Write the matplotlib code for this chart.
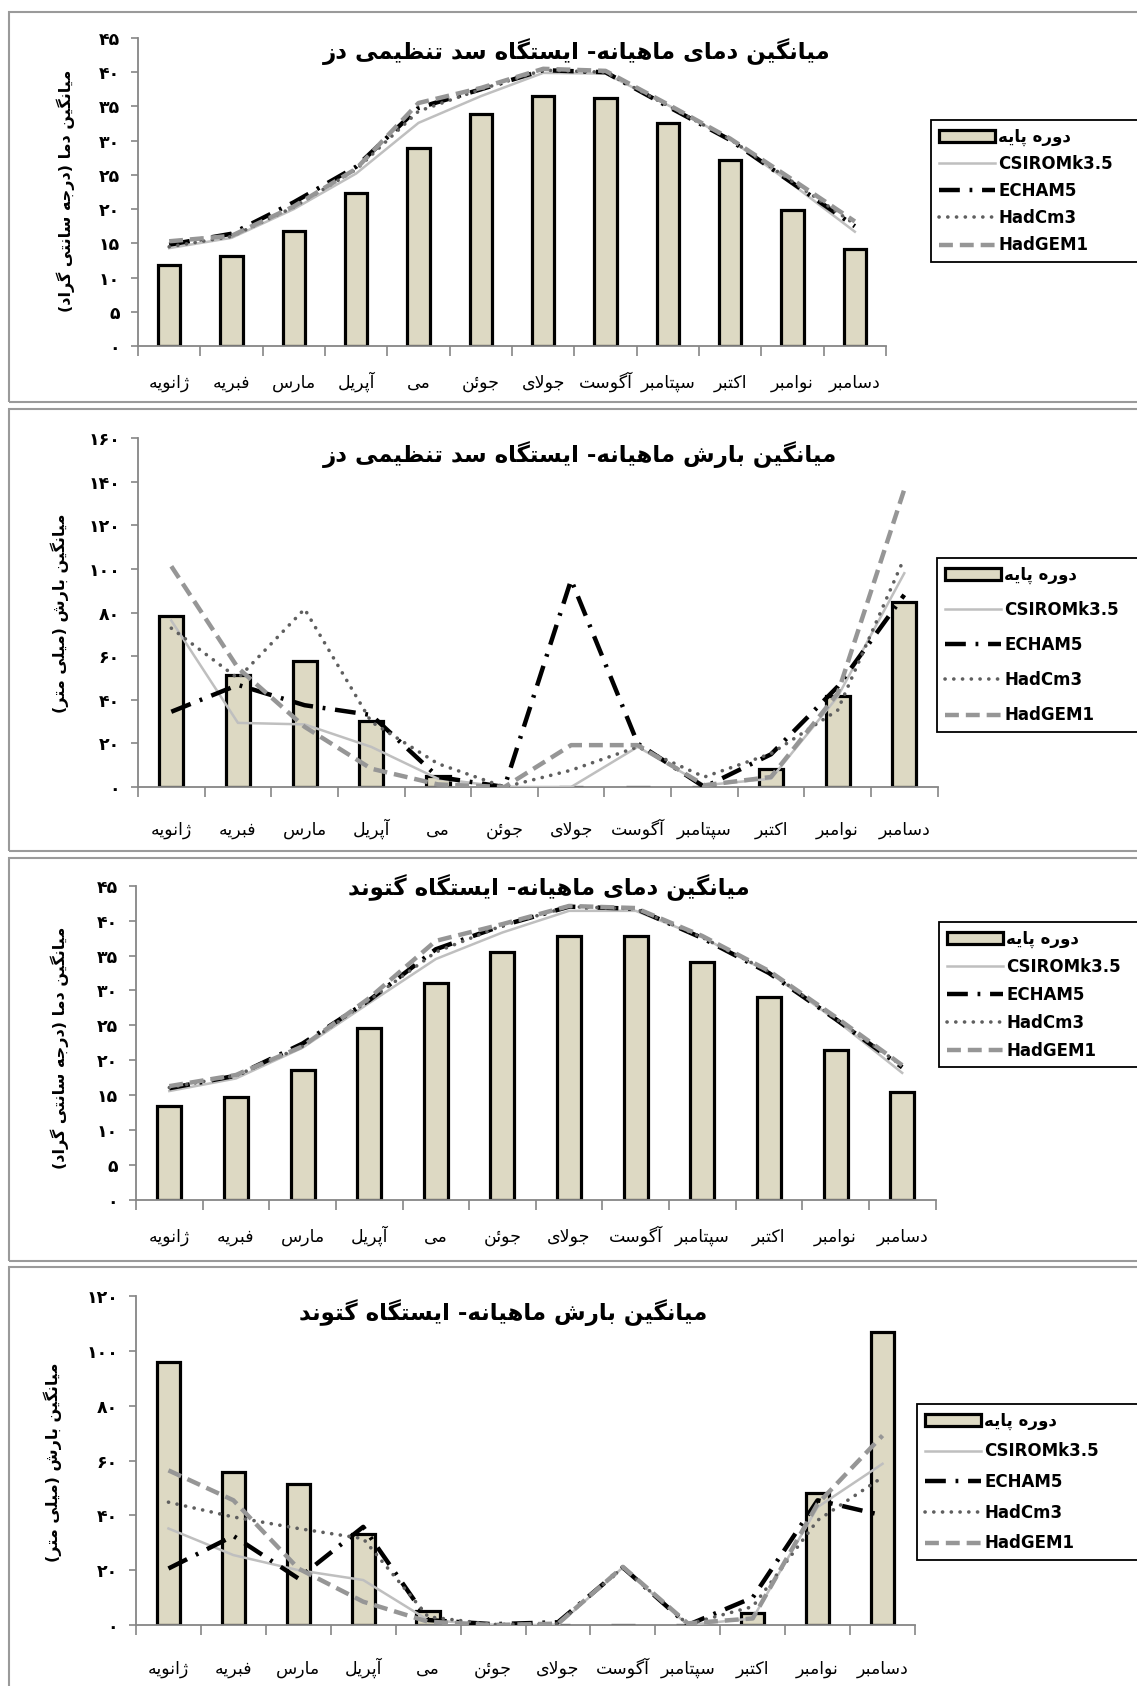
import matplotlib
matplotlib.use("Agg")
import matplotlib.pyplot as plt
from matplotlib.patches import Rectangle
import numpy as np

plt.rcParams['font.family'] = ['DejaVu Sans']
plt.rcParams['lines.scale_dashes'] = False

# ---------------- data ----------------
months = ['ژانویه', 'فبریه', 'مارس', 'آپریل', 'می', 'جوئن', 'جولای',
          'آگوست', 'سپتامبر', 'اکتبر', 'نوامبر', 'دسامبر']
series_names = ['دوره پایه', 'CSIROMk3.5', 'ECHAM5', 'HadCm3', 'HadGEM1']

dez_t_base = [11.8, 13.2, 16.8, 22.4, 29.0, 33.9, 36.5, 36.2, 32.6, 27.2, 19.8, 14.1]
dez_t_csiro = [14.3, 15.8, 20.0, 25.2, 32.6, 36.5, 39.9, 39.8, 35.2, 30.2, 23.6, 16.7]
dez_t_echam = [14.8, 16.4, 21.0, 26.2, 34.8, 37.5, 40.3, 40.0, 35.0, 30.1, 23.8, 17.5]
dez_t_hadcm3 = [14.5, 16.0, 20.3, 25.8, 34.3, 37.5, 40.3, 40.0, 35.1, 30.2, 24.0, 17.8]
dez_t_hadgem = [15.3, 16.1, 20.4, 25.9, 35.5, 37.7, 40.5, 40.2, 35.3, 30.3, 24.3, 18.2]

dez_p_base = [78.5, 51.4, 57.9, 30.2, 5.1, 0, 0, 0, 0, 8.3, 41.7, 84.9]
dez_p_csiro = [76.3, 29.4, 28.7, 18.4, 3.8, 0, 0, 18.4, 0.8, 3.8, 41.4, 98.0]
dez_p_echam = [34.5, 46.8, 37.5, 33.0, 4.6, 0, 95.0, 19.9, 0, 15.0, 46.0, 88.1]
dez_p_hadcm3 = [72.8, 49.8, 81.6, 29.9, 10.7, 0, 7.7, 18.4, 4.6, 15.3, 35.2, 105.0]
dez_p_hadgem = [101.2, 54.6, 27.6, 8.4, 1.2, 0, 19.2, 19.2, 0.8, 4.6, 42.9, 136.4]

got_t_base = [13.4, 14.8, 18.6, 24.6, 31.0, 35.5, 37.8, 37.8, 34.1, 29.1, 21.5, 15.4]
got_t_csiro = [15.6, 17.4, 21.8, 28.2, 34.5, 38.3, 41.4, 41.4, 37.6, 32.6, 25.8, 18.2]
got_t_echam = [16.0, 17.8, 22.4, 28.6, 35.9, 39.3, 42.0, 41.7, 37.5, 32.5, 25.9, 19.0]
got_t_hadcm3 = [16.1, 17.8, 22.0, 28.6, 35.5, 39.3, 42.0, 41.7, 37.6, 32.7, 26.0, 19.2]
got_t_hadgem = [16.3, 17.9, 22.0, 28.9, 37.1, 39.5, 42.1, 41.8, 37.8, 32.8, 26.2, 19.3]

got_p_base = [95.9, 55.8, 51.5, 33.1, 5.2, 0, 0, 0, 0, 4.3, 48.3, 107.0]
got_p_csiro = [35.2, 25.5, 20.0, 16.4, 1.8, 0, 0, 21.0, 0, 2.4, 43.0, 58.8]
got_p_echam = [20.6, 32.5, 17.0, 35.8, 1.8, 0.3, 1.0, 21.0, 0, 10.0, 45.5, 40.0]
got_p_hadcm3 = [44.8, 39.4, 35.2, 31.5, 3.0, 0.2, 0.5, 21.0, 0.3, 6.7, 38.2, 53.9]
got_p_hadgem = [56.4, 45.5, 20.6, 8.5, 1.2, 0, 0.5, 21.2, 0.6, 2.4, 44.2, 69.1]

titles = ['میانگین دمای ماهیانه- ایستگاه سد تنظیمی دز',
          'میانگین بارش ماهیانه- ایستگاه سد تنظیمی دز',
          'میانگین دمای ماهیانه- ایستگاه گتوند',
          'میانگین بارش ماهیانه- ایستگاه گتوند']
ylabel_temp = 'میانگین دما (درجه سانتی گراد)'
ylabel_prec = 'میانگین بارش (میلی متر)'

temp_ticks = [0, 5, 10, 15, 20, 25, 30, 35, 40, 45]
dez_prec_ticks = [0, 20, 40, 60, 80, 100, 120, 140, 160]
got_prec_ticks = [0, 20, 40, 60, 80, 100, 120]

# ---------------- Arabic/Persian shaping ----------------
FORMS = {
    '\u0627': ('\uFE8D', '\uFE8E', None, None),
    '\u0622': ('\uFE81', '\uFE82', None, None),
    '\u0628': ('\uFE8F', '\uFE90', '\uFE91', '\uFE92'),
    '\u067E': ('\uFB56', '\uFB57', '\uFB58', '\uFB59'),
    '\u062A': ('\uFE95', '\uFE96', '\uFE97', '\uFE98'),
    '\u062C': ('\uFE9D', '\uFE9E', '\uFE9F', '\uFEA0'),
    '\u062F': ('\uFEA9', '\uFEAA', None, None),
    '\u0631': ('\uFEAD', '\uFEAE', None, None),
    '\u0632': ('\uFEAF', '\uFEB0', None, None),
    '\u0698': ('\uFB8A', '\uFB8B', None, None),
    '\u0633': ('\uFEB1', '\uFEB2', '\uFEB3', '\uFEB4'),
    '\u0634': ('\uFEB5', '\uFEB6', '\uFEB7', '\uFEB8'),
    '\u0638': ('\uFEC5', '\uFEC6', '\uFEC7', '\uFEC8'),
    '\u0641': ('\uFED1', '\uFED2', '\uFED3', '\uFED4'),
    '\u06A9': ('\uFB8E', '\uFB8F', '\uFB90', '\uFB91'),
    '\u06AF': ('\uFB92', '\uFB93', '\uFB94', '\uFB95'),
    '\u0644': ('\uFEDD', '\uFEDE', '\uFEDF', '\uFEE0'),
    '\u0645': ('\uFEE1', '\uFEE2', '\uFEE3', '\uFEE4'),
    '\u0646': ('\uFEE5', '\uFEE6', '\uFEE7', '\uFEE8'),
    '\u0648': ('\uFEED', '\uFEEE', None, None),
    '\u0647': ('\uFEE9', '\uFEEA', '\uFEEB', '\uFEEC'),
    '\u06CC': ('\uFBFC', '\uFBFD', '\uFBFE', '\uFBFF'),
    '\u0626': ('\uFE89', '\uFE8A', '\uFE8B', '\uFE8C'),
}
LAMALEF = {'\u0627': ('\uFEFB', '\uFEFC'), '\u0622': ('\uFEF5', '\uFEF6')}


def dual(c):
    return c in FORMS and FORMS[c][2] is not None


def fa(s):
    res = []
    n = len(s)
    i = 0
    while i < n:
        c = s[i]
        prev_j = i > 0 and dual(s[i - 1])
        if c == '\u0644' and i + 1 < n and s[i + 1] in LAMALEF:
            res.append(LAMALEF[s[i + 1]][1 if prev_j else 0])
            i += 2
            continue
        if c in FORMS:
            iso, fin, ini, med = FORMS[c]
            next_j = ini is not None and i + 1 < n and s[i + 1] in FORMS
            if prev_j and next_j:
                res.append(med)
            elif prev_j:
                res.append(fin)
            elif next_j:
                res.append(ini)
            else:
                res.append(iso)
        else:
            res.append(c)
        i += 1
    out = ''.join(reversed(res))
    out = out.translate(str.maketrans({'(': ')', ')': '('}))
    return out


def fa_num(v):
    return str(v).translate(str.maketrans('0123456789', '۰۱۲۳۴۵۶۷۸۹'))


# ---------------- figure ----------------
W, H = 1137, 1686
fig = plt.figure(figsize=(W / 100, H / 100), dpi=100)


def fx(px):
    return px / W


def fy(py):
    return 1 - py / H


BAR_COLOR = '#DDD9C3'
AX_COLOR = '#868686'
line_styles = [
    dict(color='#BFBFBF', lw=1.8, ls='-'),
    dict(color='black', lw=3.2, ls=(0, (15, 7, 2, 7)), dash_capstyle='butt'),
    dict(color='#5F5F5F', lw=2.6, ls=(0, (0.1, 6.2)), dash_capstyle='round'),
    dict(color='#969696', lw=3.2, ls=(0, (10, 5))),
]

panels = [
    dict(frame=(9, 12, 402), ax=(138, 886, 38, 346), ylim=45, ticks=temp_ticks,
         data=[dez_t_base, dez_t_csiro, dez_t_echam, dez_t_hadcm3, dez_t_hadgem],
         title=titles[0], tpos=(577, 52), ylabel=ylabel_temp, ypos=(66, 191),
         leg=(931, 120, 0.55), xpad=30),
    dict(frame=(9, 409, 851), ax=(138, 937.6, 438, 787), ylim=160, ticks=dez_prec_ticks,
         data=[dez_p_base, dez_p_csiro, dez_p_echam, dez_p_hadcm3, dez_p_hadgem],
         title=titles[1], tpos=(580, 455), ylabel=ylabel_prec, ypos=(60, 613),
         leg=(937, 558, 1.03), xpad=34),
    dict(frame=(9, 858, 1261), ax=(136, 935.5, 885.7, 1200), ylim=45, ticks=temp_ticks,
         data=[got_t_base, got_t_csiro, got_t_echam, got_t_hadcm3, got_t_hadgem],
         title=titles[2], tpos=(549, 888), ylabel=ylabel_temp, ypos=(60, 1048),
         leg=(939, 922, 0.6), xpad=30),
    dict(frame=(9, 1267, 1700), ax=(136, 915, 1296, 1625), ylim=120, ticks=got_prec_ticks,
         data=[got_p_base, got_p_csiro, got_p_echam, got_p_hadcm3, got_p_hadgem],
         title=titles[3], tpos=(503, 1313), ylabel=ylabel_prec, ypos=(53, 1462),
         leg=(917, 1404, 0.76), xpad=35),
]

x = np.arange(len(months))

for p in panels:
    fl, ft, fb = p['frame']
    fig.patches.append(Rectangle((fx(fl), fy(fb)), fx(W + 50 - fl), (fb - ft) / H,
                                 transform=fig.transFigure, fill=False,
                                 edgecolor='#9A9A9A', lw=1.5, zorder=0))
    l, r, t, b = p['ax']
    ax = fig.add_axes([fx(l), fy(b), (r - l) / W, (b - t) / H])
    ax.patch.set_alpha(0)
    d = p['data']
    handles = []
    hb = ax.bar(x, d[0], width=0.36, color=BAR_COLOR, edgecolor='black',
                linewidth=2.3, zorder=2)
    handles.append(hb)
    for k, st in enumerate(line_styles):
        (ln,) = ax.plot(x, d[k + 1], zorder=3, **st)
        handles.append(ln)
    ax.set_xlim(-0.5, len(months) - 0.5)
    ax.set_ylim(0, p['ylim'])
    for s in ['top', 'right']:
        ax.spines[s].set_visible(False)
    for s in ['left', 'bottom']:
        ax.spines[s].set_color(AX_COLOR)
        ax.spines[s].set_linewidth(1.3)
    ax.set_yticks(p['ticks'])
    ax.set_yticklabels([fa_num(v) for v in p['ticks']], fontsize=12.5,
                       fontweight='bold')
    ax.tick_params(axis='y', length=5, width=1.2, color=AX_COLOR, pad=8)
    ax.set_xticks(x)
    ax.set_xticklabels([fa(m) for m in months], fontsize=12.5)
    for lab in ax.get_xticklabels():
        lab.set_va('baseline')
    ax.tick_params(axis='x', which='major', length=0, pad=p['xpad'])
    ax.set_xticks(np.arange(-0.5, len(months)), minor=True)
    ax.tick_params(axis='x', which='minor', length=7, width=1.2, color=AX_COLOR)

    fig.text(fx(p['tpos'][0]), fy(p['tpos'][1]), fa(p['title']), ha='center',
             va='center', fontsize=16.5, fontweight='bold')
    fig.text(fx(p['ypos'][0]), fy(p['ypos'][1]), fa(p['ylabel']), ha='center',
             va='center', rotation=90, fontsize=11.5, fontweight='bold')

    lx, lt, lsp = p['leg']
    labels = [fa(series_names[0])] + series_names[1:]
    leg = ax.legend(handles, labels, loc='upper left',
                    bbox_to_anchor=(fx(lx), fy(lt) - 0.1, fx(W + 60 - lx), 0.1),
                    bbox_transform=fig.transFigure, mode='expand',
                    borderaxespad=0, fancybox=False, framealpha=1,
                    handlelength=3.4, handletextpad=0.2, labelspacing=lsp,
                    borderpad=0.45, prop=dict(size=12, weight='bold'))
    leg.get_frame().set_edgecolor('black')
    leg.get_frame().set_linewidth(1.3)

fig.savefig('out.png', dpi=100)
